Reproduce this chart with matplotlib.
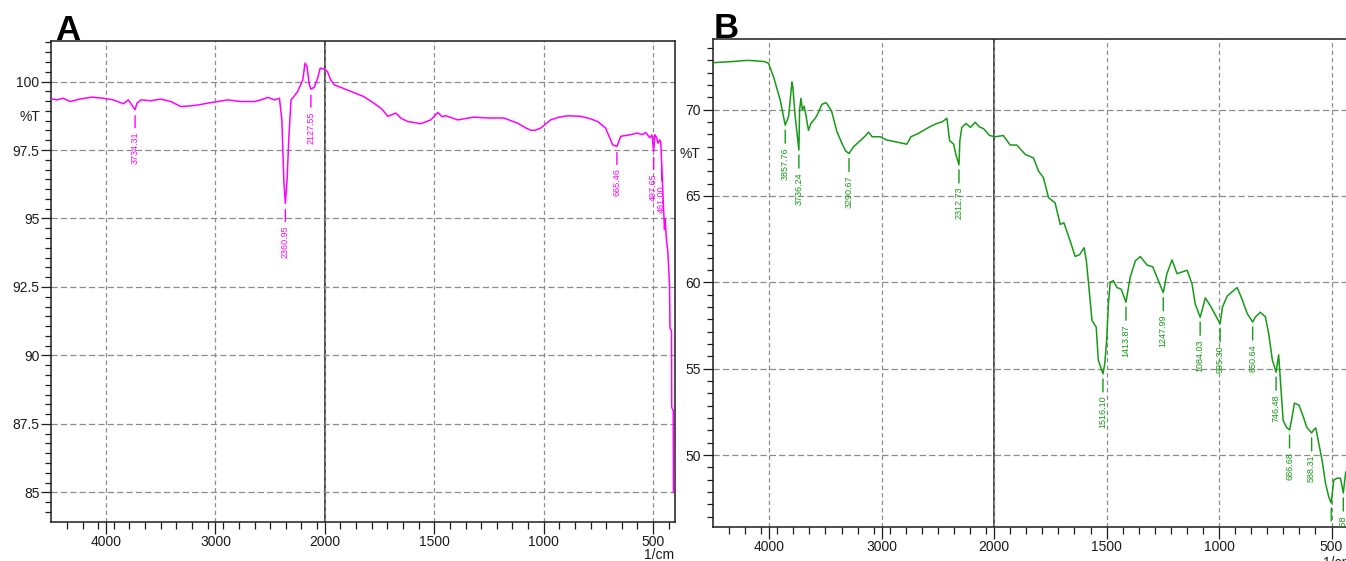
import numpy as np
import matplotlib
matplotlib.use("Agg")
import matplotlib.pyplot as plt

plt.rcParams["font.family"] = "Liberation Sans"

DPI = 100
MAGENTA = "#ff00ff"
GREEN = "#179a17"
DARK = "#1c1c1c"
GRID = "#8c8c8c"

# FTIR spectrum A: wavenumber (1/cm) and transmittance (%T)
WN_A = [4497, 4451, 4391, 4330, 4239, 4131, 4025, 3933, 3842, 3796, 3734.31,
        3717, 3680, 3591, 3500, 3408, 3317, 3225, 3150, 3072, 2980, 2888, 2766,
        2644, 2583, 2521, 2460, 2415, 2393, 2374, 2360.95, 2345, 2330, 2309,
        2284, 2248, 2202, 2181, 2163, 2142, 2127.55, 2097, 2066, 2042, 2005,
        1988, 1973, 1957, 1881, 1822, 1776, 1740, 1712, 1676, 1650, 1621, 1590,
        1562, 1516, 1484, 1465, 1447, 1393, 1320, 1256, 1183, 1119, 1080, 1059,
        1040, 1014, 968, 930, 890, 831, 790, 753, 717, 685, 665.46, 648, 603,
        573, 550, 534, 515, 505, 497.65, 492, 484, 478, 470, 465, 461.00, 452,
        448, 445, 440, 433, 425, 423, 416, 415, 408, 407]
T_A = [99.37, 99.33, 99.39, 99.27, 99.36, 99.43, 99.39, 99.33, 99.19, 99.33,
       98.97, 99.21, 99.33, 99.30, 99.36, 99.27, 99.09, 99.11, 99.15, 99.21,
       99.27, 99.33, 99.27, 99.27, 99.33, 99.42, 99.33, 99.39, 98.60, 96.30,
       95.55, 96.42, 97.88, 99.33, 99.45, 99.64, 100.06, 100.67, 100.55, 99.88,
       99.72, 99.79, 100.12, 100.49, 100.45, 100.36, 100.06, 99.88, 99.64,
       99.45, 99.21, 99.00, 98.73, 98.85, 98.65, 98.54, 98.50, 98.46, 98.60,
       98.87, 98.72, 98.75, 98.60, 98.70, 98.67, 98.67, 98.48, 98.30, 98.22,
       98.22, 98.30, 98.60, 98.70, 98.75, 98.73, 98.65, 98.54, 98.30, 97.69,
       97.63, 98.00, 98.06, 98.12, 98.06, 98.14, 97.95, 98.05, 97.45, 98.06,
       97.95, 97.75, 97.87, 97.80, 97.03, 95.30, 94.60, 95.00, 94.30, 93.80,
       92.60, 91.00, 90.90, 88.10, 88.00, 85.00]
PEAKS_A = [3734.31, 2360.95, 2127.55, 665.46, 497.65, 461.00]

# FTIR spectrum B
WN_B = [4495, 4420, 4347, 4290, 4230, 4180, 4110, 4040, 4006, 3962, 3902,
        3857.76, 3828, 3798, 3790, 3769, 3736.24, 3730, 3718, 3705, 3690, 3680,
        3651, 3630, 3591, 3565, 3532, 3500, 3487, 3445, 3398, 3370, 3350, 3320,
        3290.67, 3250, 3191, 3150, 3117, 3085, 3013, 2960, 2924, 2850, 2776,
        2740, 2680, 2628, 2560, 2509, 2460, 2420, 2396, 2360, 2340, 2312.73,
        2305, 2287, 2250, 2210, 2169, 2130, 2095, 2040, 1996, 1959, 1929, 1899,
        1862, 1825, 1803, 1781, 1758, 1729, 1706, 1690, 1662, 1640, 1620, 1600,
        1590, 1580, 1565, 1546, 1537, 1516.10, 1508, 1500, 1492, 1484, 1470,
        1454, 1435, 1413.87, 1395, 1372, 1350, 1320, 1295, 1276, 1247.99, 1232,
        1209, 1187, 1142, 1120, 1106, 1084.03, 1075, 1061, 1035, 995.30, 985,
        964, 920, 900, 875, 850.64, 838, 816, 794, 779, 763, 746.48, 735, 725,
        715, 700, 686.68, 678, 665, 645, 625, 610, 588.31, 580, 570, 557, 542,
        527, 512, 501.23, 490, 475, 460, 447.58, 437, 420, 405]
T_B = [72.72, 72.75, 72.78, 72.80, 72.84, 72.85, 72.82, 72.78, 72.68, 71.90,
       70.55, 69.10, 69.60, 71.60, 71.30, 69.60, 67.66, 69.98, 70.65, 69.98,
       70.20, 69.90, 68.80, 69.20, 69.50, 69.80, 70.30, 70.40, 70.35, 69.90,
       68.72, 68.30, 68.00, 67.60, 67.46, 67.85, 68.20, 68.45, 68.70, 68.43,
       68.43, 68.25, 68.20, 68.10, 68.00, 68.43, 68.60, 68.80, 69.05, 69.20,
       69.30, 69.50, 68.20, 68.00, 67.40, 66.80, 68.20, 68.97, 69.20, 68.97,
       69.27, 69.00, 68.90, 68.50, 68.43, 68.50, 67.95, 67.95, 67.41, 67.20,
       66.45, 66.06, 64.90, 64.60, 63.35, 63.45, 62.40, 61.50, 61.60, 62.00,
       61.25, 59.90, 57.80, 57.40, 55.50, 54.70, 55.30, 56.60, 58.75, 60.00,
       60.10, 59.70, 59.60, 58.85, 60.30, 61.25, 61.49, 61.00, 60.90, 60.30,
       59.40, 60.50, 61.30, 60.50, 60.70, 59.90, 58.75, 57.98, 58.40, 59.10,
       58.56, 57.60, 58.56, 59.20, 59.70, 59.10, 58.20, 57.70, 58.00, 58.27,
       58.00, 57.00, 55.50, 54.80, 55.80, 53.90, 52.00, 51.60, 51.45, 52.00,
       53.00, 52.90, 52.20, 51.60, 51.28, 51.45, 51.57, 50.70, 49.70, 48.38,
       47.57, 47.22, 48.55, 48.66, 48.66, 47.80, 49.00, 49.30, 49.00]
PEAKS_B = [3857.76, 3736.24, 3290.67, 2312.73, 1516.10, 1413.87, 1247.99,
           1084.03, 995.30, 850.64, 746.48, 686.68, 588.31, 501.23, 447.58]

X_TICKS = [4000, 3000, 2000, 1500, 1000, 500]
Y_TICKS_A = [85, 87.5, 90, 92.5, 95, 97.5, 100]
Y_LABELS_A = ["85", "87.5", "90", "92.5", "95", "97.5", "100"]
Y_TICKS_B = [50, 55, 60, 65, 70]


# spectrometer axis: 4500-2000 at half the scale of 2000-400
def fwd(x):
    x = np.asarray(x, dtype=float)
    return np.where(x > 2000, x + 2000, 2 * x)


def inv(y):
    y = np.asarray(y, dtype=float)
    return np.where(y > 4000, y - 2000, y / 2)


def style_axes(ax, ylim, yticks, ylabels, ystep):
    ax.set_xscale("function", functions=(fwd, inv))
    minor_x = list(np.arange(4500, 2000, -1000 / 7)[1:]) + \
        list(np.arange(2000, 400, -500 / 7))
    ax.set_xticks(X_TICKS, [str(v) for v in X_TICKS])
    ax.set_xticks(minor_x, minor=True)
    minor_y = np.arange(yticks[0] - 2 * ystep, ylim[1], ystep / 7)
    ax.set_yticks(yticks, ylabels)
    ax.set_yticks(minor_y[minor_y >= ylim[0]], minor=True)
    ax.set_xlim(4500, 400)
    ax.set_ylim(*ylim)
    ax.tick_params(axis="x", which="major", length=8.5, width=0.9, pad=1,
                   labelsize=10, colors=DARK)
    ax.tick_params(axis="x", which="minor", length=5, width=0.9, colors=DARK)
    ax.tick_params(axis="y", which="major", length=7, width=0.9, pad=1.5,
                   labelsize=10, colors=DARK)
    ax.tick_params(axis="y", which="minor", length=4, width=0.9, colors=DARK)
    ax.yaxis.grid(True, which="major", color=GRID, lw=0.9, ls=(0, (5, 2.5)))
    ax.xaxis.grid(True, which="major", color=GRID, lw=0.9, ls=(0, (3.5, 2.5)))
    for sp in ax.spines.values():
        sp.set_color(DARK)
        sp.set_linewidth(1.1)
    ax.axvline(2000, color=DARK, lw=1.1, zorder=1.5)


def mark_peaks(ax, wn, t, peaks, color, gap=5, tick=13, pad=4):
    xs = np.asarray(wn)[::-1]
    ys = np.asarray(t)[::-1]
    for p in peaks:
        v = np.interp(p, xs, ys)
        line = ax.annotate("", xy=(p, v), xytext=(0, -(gap + tick)),
                           textcoords="offset pixels",
                           arrowprops=dict(arrowstyle="-", color=color, lw=1,
                                           shrinkA=0, shrinkB=gap * 72 / DPI))
        lab = ax.annotate(f"{p:.2f}", xy=(p, v), xytext=(0, -(gap + tick + pad)),
                          textcoords="offset pixels", rotation=90,
                          ha="center", va="top", fontsize=6.5, color=color)
        line.arrow_patch.set_clip_box(ax.bbox)
        lab.set_clip_box(ax.bbox)


fig = plt.figure(figsize=(13.46, 5.61), dpi=DPI)
ax_a = fig.add_axes([51.3 / 1346, 39.3 / 561, 623.7 / 1346, 480.7 / 561])
ax_b = fig.add_axes([713 / 1346, 34.3 / 561, 641 / 1346, 487.7 / 561])

style_axes(ax_a, (83.93, 101.48), Y_TICKS_A, Y_LABELS_A, 2.5)
ax_a.plot(WN_A, T_A, color=MAGENTA, lw=1.1, zorder=3)
mark_peaks(ax_a, WN_A, T_A, PEAKS_A, MAGENTA, gap=6, tick=12, pad=4)
ax_a.text(-0.018, 0.842, "%T", transform=ax_a.transAxes, ha="right",
          va="center", fontsize=10, color=DARK)
ax_a.text(0.975, -0.07, "1/cm", transform=ax_a.transAxes, ha="center",
          va="center", fontsize=10, color=DARK)

style_axes(ax_b, (45.85, 74.09), Y_TICKS_B, [str(v) for v in Y_TICKS_B], 5)
ax_b.plot(WN_B, T_B, color=GREEN, lw=1.1, zorder=3)
mark_peaks(ax_b, WN_B, T_B, PEAKS_B, GREEN)
ax_b.text(-0.02, 0.764, "%T", transform=ax_b.transAxes, ha="right",
          va="center", fontsize=10, color=DARK)
ax_b.text(0.975, -0.074, "1/cm", transform=ax_b.transAxes, ha="center",
          va="center", fontsize=10, color=DARK)

fig.text(55 / 1346, 1 - 40 / 561, "A", fontsize=25, fontweight="bold",
         ha="left", va="baseline")
fig.text(714 / 1346, 1 - 38 / 561, "B", fontsize=25, fontweight="bold",
         ha="left", va="baseline")

fig.savefig("out.png", dpi=DPI)
